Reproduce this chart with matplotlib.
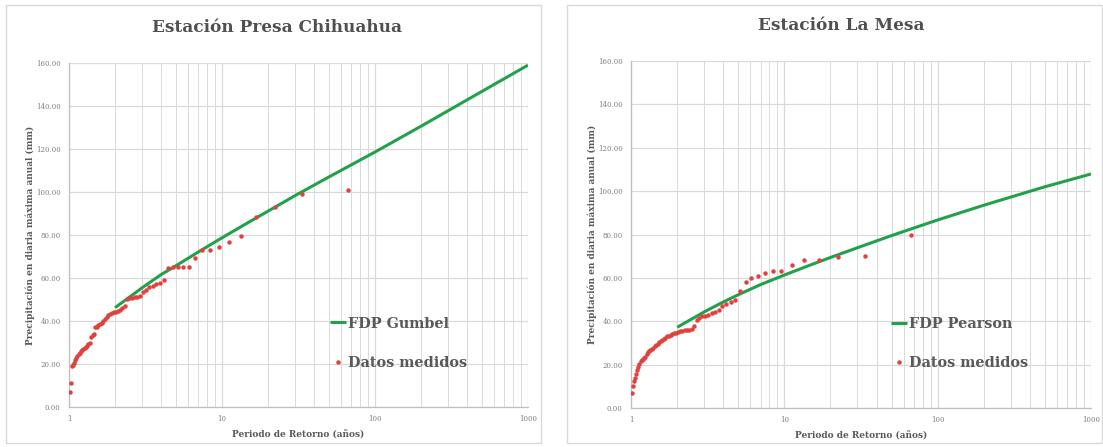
import matplotlib
matplotlib.use("Agg")
import matplotlib.pyplot as plt
from matplotlib.ticker import FixedLocator, LogLocator, NullFormatter
from matplotlib.patches import Rectangle

# ---------------- data ----------------
n_years = 66
rank = list(range(1, n_years + 1))

# Estación Presa Chihuahua - measured values sorted descending (rank 1 = largest)
chih_medidos = [100.9, 99.1, 92.9, 88.4, 79.5, 76.7, 74.6, 73.0, 73.0, 69.4,
                65.0, 65.3, 65.3, 65.0, 64.5, 59.1, 57.8, 57.0, 56.3, 56.0,
                54.4, 53.3, 51.8, 51.3, 51.0, 50.8, 50.5, 50.3, 47.0, 46.0,
                45.2, 44.8, 44.4, 44.0, 43.6, 43.4, 42.6, 41.8, 40.8, 40.0,
                39.3, 38.6, 38.0, 37.4, 37.0, 34.0, 33.5, 32.5, 30.0, 29.3,
                28.4, 27.9, 27.4, 27.0, 26.3, 25.9, 25.3, 24.6, 23.7, 22.9,
                21.7, 20.6, 19.5, 19.0, 11.3, 7.0]

# Estación La Mesa - measured values sorted descending
mesa_medidos = [80.0, 70.0, 69.7, 68.1, 68.1, 66.1, 63.0, 63.0, 62.3, 60.7,
                60.0, 58.1, 53.8, 49.7, 48.7, 48.0, 47.2, 45.0, 44.1, 43.8,
                43.1, 42.6, 42.3, 41.5, 40.4, 37.7, 36.3, 36.0, 35.9, 35.8,
                35.6, 35.4, 35.0, 34.7, 34.4, 34.0, 33.5, 33.3, 33.1, 32.5,
                31.8, 31.4, 30.9, 30.3, 29.5, 29.0, 28.5, 27.7, 27.2, 26.8,
                26.3, 25.7, 25.0, 23.5, 22.9, 22.6, 22.2, 21.5, 20.5, 19.0,
                17.5, 15.5, 14.0, 12.5, 10.0, 6.9]

# fitted distributions
fdp_T = [2, 3, 4, 5, 7, 10, 15, 20, 30, 50, 100, 200, 500, 1000]
gumbel_vals = [46.2, 55.4, 61.6, 65.7, 72.1, 78.7, 86.0, 91.1, 98.3, 107.0, 118.6, 130.6, 146.8, 159.0]
pearson_vals = [37.2, 44.3, 48.9, 52.2, 56.9, 61.3, 66.1, 69.4, 73.9, 79.5, 86.7, 93.5, 102.0, 107.9]

yticks = [0, 20, 40, 60, 80, 100, 120, 140, 160]
xticks = [1, 10, 100, 1000]

titles = ["Estación Presa Chihuahua", "Estación La Mesa"]
fit_labels = ["FDP Gumbel", "FDP Pearson"]
xlabel = "Periodo de Retorno (años)"
ylabel = "Precipitación en diaria máxima anual (mm)"

# ---------------- style ----------------
SERIF = ["DejaVu Serif"]
TXT = "#595959"
GRID = "#d9d9d9"
GREEN = "#22a04b"
RED = "#e0413f"

W, H = 1103, 447
fig = plt.figure(figsize=(W / 100, H / 100), dpi=100)
fig.patch.set_facecolor("white")

def px_axes(x0, x1, ytop, ybot):
    return fig.add_axes([x0 / W, (H - ybot) / H, (x1 - x0) / W, (ybot - ytop) / H])

# panel frames
for (fx0, fx1) in [(6, 541), (567, 1102)]:
    fig.patches.append(Rectangle((fx0 / W, 4 / H), (fx1 - fx0) / W, (442 - 4) / H,
                                 transform=fig.transFigure, fill=False,
                                 edgecolor="#d9d9d9", linewidth=1.0))

axes_px = [(69, 528, 63, 407), (631, 1091, 61, 408)]
series = [chih_medidos, mesa_medidos]
fits = [gumbel_vals, pearson_vals]
title_pos = [(277, 27), (841, 25)]
legend_anchor = [(0.569, 0.263), (0.566, 0.263)]

for i in range(2):
    ax = px_axes(*axes_px[i])
    T = [(n_years + 1) / m for m in rank]
    ax.set_xscale("log")
    ax.set_xlim(1, 1000)
    ax.set_ylim(0, 160)
    ax.plot(fdp_T, fits[i], color=GREEN, lw=2.2, label=fit_labels[i], zorder=3,
            solid_capstyle="butt", solid_joinstyle="round")
    ax.plot(T, series[i], linestyle="none", marker="o", ms=3.2, color=RED,
            markeredgewidth=0, label="Datos medidos", zorder=4)

    ax.xaxis.set_major_locator(FixedLocator(xticks))
    ax.set_xticklabels([str(t) for t in xticks])
    ax.xaxis.set_minor_locator(LogLocator(base=10, subs=range(2, 10)))
    ax.xaxis.set_minor_formatter(NullFormatter())
    ax.set_yticks(yticks)
    ax.set_yticklabels([f"{v:.2f}" for v in yticks])
    ax.grid(True, which="major", color=GRID, lw=0.9)
    ax.grid(True, which="minor", axis="x", color=GRID, lw=0.7)
    ax.tick_params(which="both", length=0, labelsize=5, colors="#7f7f7f", pad=6)
    for lab in ax.get_xticklabels() + ax.get_yticklabels():
        lab.set_family(SERIF)
    for s in ["top", "right"]:
        ax.spines[s].set_visible(False)
    for s in ["left", "bottom"]:
        ax.spines[s].set_color("#bfbfbf")
        ax.spines[s].set_linewidth(0.9)
    ax.set_axisbelow(True)

    ax.set_xlabel(xlabel, fontsize=6.5, family=SERIF, fontweight="bold", color=TXT, labelpad=5)
    ax.set_ylabel(ylabel, fontsize=6.5, family=SERIF, fontweight="bold", color=TXT, labelpad=0.5)

    leg = ax.legend(loc="upper left", bbox_to_anchor=legend_anchor[i], frameon=False,
                    prop={"family": SERIF, "weight": "bold", "size": 10.4},
                    handlelength=1.1, handletextpad=0.15, labelspacing=1.76,
                    borderpad=0, borderaxespad=0)
    for t in leg.get_texts():
        t.set_color(TXT)

    fig.text(title_pos[i][0] / W, 1 - title_pos[i][1] / H, titles[i], ha="center", va="center",
             fontsize=12.2, family=SERIF, fontweight="bold", color="#505050")

fig.savefig("out.png", dpi=100, facecolor="white")
